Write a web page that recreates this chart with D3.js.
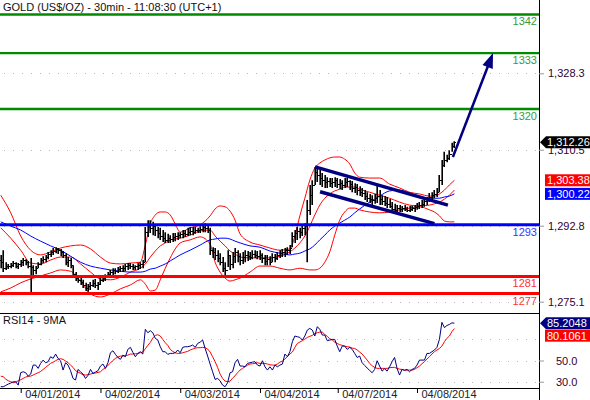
<!DOCTYPE html>
<html><head><meta charset="utf-8">
<script src="https://cdn.jsdelivr.net/npm/d3@7/dist/d3.min.js"></script>
<style>
html,body{margin:0;padding:0;background:#fff;}
svg{display:block;font-family:Arial,"Liberation Sans",sans-serif;}
</style></head><body>
<svg id="chart" width="590" height="400"></svg>
<script>
// ---------------- DATA ----------------
const title = "GOLD (US$/OZ) - 30min - 11:08:30 (UTC+1)";
const rsiTitle = "RSI14 - 9MA";
const dayLabels = ["04/01/2014","04/02/2014","04/03/2014","04/04/2014","04/07/2014","04/08/2014"];
const dayStartIdx = [8, 40, 72, 104, 135.2, 167];
const priceTicks = [1275.1, 1292.8, 1310.5, 1328.3];
const rsiGrid = [30, 50, 70];
const rsiTickLabels = [30, 50];
const levelValues = [1342, 1333, 1320, 1293, 1281, 1277];
const levelKinds  = ["res", "res", "res", "piv", "sup", "sup"];

const firstOpen = 1284.8;
const highs = [
 1286.0,1287.1,1284.3,1283.9,1284.1,1284.6,1284.3,1284.1,1284.8,1285.3,
 1285.0,1284.6,1285.3,1283.6,1283.4,1284.3,1285.3,1285.7,1286.0,1286.7,
 1287.1,1287.6,1287.8,1287.6,1287.4,1286.9,1286.4,1285.5,1285.3,1283.6,
 1282.0,1281.1,1280.6,1280.2,1279.5,1279.2,1279.7,1280.2,1280.4,1279.7,
 1280.8,1281.3,1281.5,1282.0,1282.5,1282.9,1282.9,1283.2,1283.4,1283.6,
 1283.9,1284.1,1284.1,1283.9,1283.6,1284.1,1284.3,1284.8,1292.5,1294.1,
 1294.1,1293.7,1293.0,1292.5,1292.3,1291.8,1291.3,1290.9,1290.6,1291.1,
 1291.1,1291.3,1291.3,1291.8,1291.8,1292.3,1292.5,1292.5,1292.5,1292.3,
 1292.7,1293.0,1293.4,1293.2,1292.3,1287.8,1287.6,1287.1,1286.4,1285.5,
 1284.3,1287.1,1286.0,1286.7,1287.6,1287.1,1286.4,1286.7,1287.1,1286.9,
 1286.7,1287.1,1287.1,1286.9,1287.1,1286.4,1286.0,1286.0,1285.7,1286.4,
 1286.2,1286.7,1287.1,1287.4,1287.6,1287.8,1288.3,1291.3,1291.8,1292.5,
 1292.3,1293.0,1293.4,1298.8,1302.3,1303.4,1306.5,1306.2,1305.8,1305.1,
 1304.6,1304.1,1303.9,1303.9,1304.1,1303.9,1303.7,1303.4,1303.9,1303.9,
 1303.4,1303.2,1302.7,1302.5,1302.0,1301.6,1301.1,1300.6,1300.2,1299.9,
 1300.2,1302.3,1301.1,1299.9,1299.7,1299.5,1299.0,1298.3,1297.9,1297.6,
 1297.6,1297.4,1297.6,1297.2,1297.4,1297.4,1297.6,1298.1,1298.3,1298.8,
 1299.2,1299.5,1300.4,1300.6,1301.1,1301.6,1304.6,1308.1,1310.0,1309.3,
 1310.4,1312.1,1312.5];
const lows = [
 1282.9,1282.0,1282.5,1282.7,1282.9,1283.2,1282.9,1282.7,1283.2,1283.4,
 1283.6,1282.9,1277.1,1281.3,1281.5,1282.9,1283.6,1284.1,1284.3,1285.0,
 1285.5,1286.0,1286.4,1286.2,1285.7,1285.3,1283.6,1283.2,1282.9,1280.8,
 1279.9,1279.5,1279.0,1278.3,1277.6,1277.4,1277.8,1278.5,1278.3,1277.8,
 1279.0,1279.7,1279.9,1280.6,1280.8,1281.3,1281.5,1281.8,1282.0,1282.0,
 1282.2,1282.5,1282.7,1282.5,1282.5,1282.5,1282.7,1282.9,1284.3,1290.2,
 1291.1,1290.6,1290.4,1289.9,1289.5,1289.0,1288.8,1288.8,1288.8,1289.0,
 1289.2,1289.5,1289.9,1289.9,1290.2,1290.4,1290.6,1290.6,1290.9,1291.1,
 1291.1,1291.3,1291.3,1291.1,1286.0,1285.3,1284.8,1284.3,1283.6,1282.0,
 1281.1,1283.2,1282.5,1282.9,1284.1,1284.3,1283.6,1283.9,1284.3,1284.6,
 1284.8,1285.0,1285.3,1285.0,1284.8,1284.1,1283.6,1283.6,1283.6,1284.3,
 1284.3,1284.8,1285.3,1285.5,1285.5,1286.0,1286.2,1287.8,1288.8,1289.5,
 1289.9,1290.4,1290.6,1284.3,1295.3,1297.6,1302.3,1303.0,1302.3,1301.8,
 1301.6,1301.6,1301.8,1301.6,1301.8,1301.6,1301.3,1301.1,1301.6,1301.8,
 1301.1,1300.6,1300.4,1299.9,1299.7,1299.5,1298.8,1298.3,1298.1,1297.6,
 1297.9,1298.1,1297.6,1297.6,1297.4,1296.9,1296.9,1296.0,1295.8,1296.0,
 1296.0,1296.0,1296.2,1296.0,1296.0,1296.2,1296.0,1296.5,1296.7,1296.9,
 1297.2,1297.6,1298.3,1298.8,1299.2,1299.5,1300.6,1302.3,1306.5,1307.6,
 1308.1,1310.0,1310.9];
const closes = [
 1284.3,1282.9,1283.4,1283.4,1283.6,1284.1,1283.4,1283.9,1284.3,1284.8,
 1284.3,1283.4,1283.2,1282.5,1282.9,1283.9,1284.8,1285.0,1285.5,1286.2,
 1286.7,1286.9,1287.4,1287.1,1286.7,1286.0,1284.3,1284.8,1283.6,1281.5,
 1280.6,1280.2,1279.7,1279.0,1278.3,1278.8,1279.0,1279.5,1279.0,1279.2,
 1280.2,1280.6,1281.1,1281.5,1282.0,1282.5,1282.2,1282.7,1282.9,1282.9,
 1283.4,1283.6,1283.4,1283.2,1283.4,1283.6,1283.9,1284.3,1291.3,1293.0,
 1292.3,1292.7,1291.8,1291.1,1290.4,1289.9,1289.5,1289.9,1289.7,1290.2,
 1290.4,1290.6,1290.9,1291.1,1290.9,1291.3,1291.6,1291.3,1291.8,1291.8,
 1292.0,1292.5,1292.3,1291.8,1287.1,1286.7,1286.0,1285.3,1284.3,1282.9,
 1282.5,1286.0,1283.9,1285.7,1286.7,1285.7,1284.8,1285.5,1286.0,1285.7,
 1285.5,1286.2,1286.0,1285.7,1286.0,1285.3,1284.6,1285.0,1284.3,1285.5,
 1285.3,1286.0,1286.4,1286.7,1287.1,1287.1,1287.6,1290.4,1291.1,1291.6,
 1291.3,1292.3,1292.7,1296.5,1299.9,1302.3,1305.3,1304.6,1303.9,1303.4,
 1303.0,1303.2,1302.7,1303.0,1303.4,1302.5,1302.7,1302.3,1303.0,1303.2,
 1302.5,1301.6,1301.8,1301.1,1300.6,1300.4,1299.7,1299.2,1299.0,1298.8,
 1299.2,1299.7,1299.0,1298.5,1298.1,1297.9,1297.4,1296.7,1296.5,1296.9,
 1296.7,1296.9,1296.7,1296.5,1296.7,1296.9,1297.2,1297.4,1297.6,1297.9,
 1298.5,1298.8,1299.5,1299.9,1300.2,1300.6,1303.4,1306.9,1308.1,1308.6,
 1309.5,1311.4,1312.26];

// Indicator curves at these bar positions
const bandIdx = [0,4,8,12,16,20,24,28,32,36,40,44,48,52,56,58,60,62,64,66,68,70,72,76,80,84,86,88,90,92,
 94,96,100,104,108,112,116,118,120,122,124,126,128,130,132,134,136,138,140,142,144,148,152,156,160,164,168,172,174,176,178,180,182];
const bbUpper = [
 1299.9,1295.8,1290.4,1287.1,1286.0,1286.7,1287.6,1288.1,1288.3,1287.4,
 1285.5,1284.1,1283.9,1284.1,1284.3,1288.3,1293.2,1295.3,1296.0,1296.0,
 1295.3,1293.2,1291.3,1292.3,1293.0,1295.1,1296.7,1297.4,1297.2,1296.2,
 1294.1,1290.9,1289.0,1288.3,1287.6,1287.1,1287.4,1290.4,1295.1,1299.2,
 1303.4,1306.2,1307.4,1308.1,1308.6,1308.8,1308.8,1308.3,1307.2,1305.1,
 1304.1,1303.9,1303.9,1302.5,1301.6,1300.6,1300.2,1299.7,1299.7,1300.2,
 1301.1,1302.3,1303.38];
const bbMiddle = [
 1292.3,1289.9,1287.1,1284.1,1283.9,1284.8,1285.5,1285.5,1283.9,1282.0,
 1280.4,1280.2,1280.8,1282.0,1282.9,1283.9,1285.5,1286.9,1288.1,1288.8,
 1289.5,1289.7,1289.9,1290.6,1291.6,1291.8,1290.4,1289.2,1288.1,1286.9,
 1286.2,1285.5,1285.3,1285.3,1285.3,1285.7,1286.7,1287.6,1288.8,1290.4,
 1292.7,1295.3,1297.6,1299.2,1300.2,1300.9,1301.3,1301.8,1301.8,1301.8,
 1301.3,1300.6,1299.9,1299.2,1298.3,1297.6,1297.4,1297.6,1297.9,1298.3,
 1299.0,1299.9,1301.1];
const bbLower = [
 1277.4,1278.3,1279.5,1280.4,1281.1,1281.8,1282.5,1282.2,1279.9,1276.9,
 1276.2,1276.9,1278.1,1279.0,1280.2,1279.2,1277.6,1277.8,1280.2,1282.9,
 1285.3,1287.4,1288.8,1289.5,1290.2,1288.5,1284.3,1282.0,1280.6,1279.9,
 1280.2,1280.6,1282.0,1283.4,1283.4,1282.9,1282.5,1282.7,1282.9,1282.7,
 1282.5,1282.5,1282.9,1284.3,1286.7,1290.6,1294.1,1296.0,1296.9,1296.9,
 1296.5,1296.0,1295.8,1296.0,1296.5,1296.9,1297.2,1296.5,1296.0,1295.1,
 1293.9,1293.7,1293.7];
const maLong = [
 1293.7,1292.7,1291.8,1290.4,1289.2,1288.1,1287.1,1285.7,1284.3,1283.4,
 1282.9,1282.5,1282.2,1282.0,1282.0,1282.2,1282.7,1282.9,1283.4,1283.9,
 1284.6,1285.3,1286.0,1287.1,1288.3,1289.5,1289.7,1289.9,1289.9,1289.7,
 1289.2,1288.8,1288.1,1287.8,1286.9,1286.4,1286.0,1286.2,1286.4,1286.9,
 1287.4,1288.3,1289.5,1290.6,1291.8,1292.7,1293.4,1294.1,1294.8,1295.8,
 1296.7,1298.3,1299.7,1300.9,1301.1,1300.4,1299.7,1299.2,1299.2,1299.2,
 1299.5,1299.7,1300.22];

const rsi = [
 25.3,25.3,26.5,27.8,28.7,30.0,30.0,26.8,38.5,39.4,
 38.5,35.3,37.2,45.7,45.7,42.6,47.3,50.4,47.9,48.9,
 53.6,52.0,56.1,52.0,49.8,41.0,47.9,45.7,40.4,33.1,
 31.6,41.6,39.4,37.2,33.1,36.0,41.6,37.8,39.1,40.4,
 44.8,46.7,42.6,47.9,57.3,59.2,55.8,52.9,51.1,55.1,
 53.6,60.5,62.4,57.7,53.6,56.7,58.3,56.1,79.4,76.2,
 78.1,76.2,70.9,69.3,63.0,58.3,58.3,55.8,56.7,56.7,
 57.3,59.9,57.3,62.4,63.0,63.0,63.6,64.6,62.4,66.1,
 67.4,69.3,61.4,54.2,46.7,39.4,32.2,33.1,30.9,26.8,
 25.3,29.0,38.5,39.4,47.9,51.1,44.8,44.8,44.1,47.3,
 47.9,48.5,48.9,45.7,44.8,49.8,44.1,41.0,44.1,41.0,
 45.7,44.1,45.7,46.7,56.1,53.6,58.3,67.7,73.1,72.4,
 71.8,69.3,73.1,78.7,80.3,78.7,73.1,81.9,79.4,74.0,
 74.0,68.7,69.3,69.9,69.9,63.6,58.3,63.6,63.6,60.5,
 62.4,60.5,56.7,52.9,54.2,47.9,45.4,42.9,40.7,38.5,
 41.6,49.8,44.8,40.0,42.2,40.0,44.1,48.9,52.9,42.6,
 36.3,41.6,40.7,41.6,39.4,41.6,42.6,45.7,50.4,50.4,
 50.4,56.7,56.7,58.3,59.9,62.4,70.0,86.0,81.0,83.0,
 84.0,85.5,85.2048];
const rsiMA = [
 35.3,34.7,32.5,30.9,30.0,29.0,29.7,30.9,31.9,33.1,
 34.4,35.0,35.3,36.3,37.5,38.5,39.7,41.6,43.5,45.4,
 47.3,48.5,49.8,51.1,51.7,51.1,49.5,47.9,45.7,43.5,
 40.4,39.1,37.9,36.6,36.3,36.6,37.2,37.9,38.2,38.8,
 39.4,41.6,43.2,45.4,47.6,50.1,52.0,53.3,54.2,54.2,
 54.5,55.1,56.1,56.1,56.4,56.7,57.3,58.0,61.1,64.3,
 67.1,71.2,73.7,74.3,73.1,69.9,66.8,64.3,60.5,58.6,
 57.3,56.7,56.7,57.3,58.0,58.6,59.9,60.8,61.7,62.1,
 62.1,62.4,62.1,60.8,58.0,53.6,48.9,43.5,37.2,33.1,
 30.6,30.0,30.6,33.4,35.6,38.5,41.0,42.6,44.1,45.7,
 46.7,47.0,47.3,47.9,47.3,47.3,47.3,46.7,46.0,45.7,
 45.7,46.7,48.5,49.5,51.4,53.6,56.1,58.0,62.4,66.1,
 67.4,68.7,70.2,71.8,72.8,73.7,75.3,76.2,76.8,76.8,
 74.6,72.8,70.6,69.3,67.4,66.1,64.9,64.3,63.6,63.0,
 62.7,61.7,61.4,59.9,58.0,56.1,53.3,50.4,47.3,45.1,
 43.5,42.6,42.6,42.6,42.6,42.6,43.2,43.5,43.5,42.6,
 41.9,41.6,41.0,41.0,41.0,41.0,41.6,43.2,44.8,47.0,
 48.9,51.4,53.6,56.1,58.3,59.9,61.4,63.6,67.7,70.9,
 73.1,77.2,80.1061];

// drawn annotations (bar index, price)
const chanUpIdx = [126.1, 179.4], chanUpVal = [1306.5, 1297.6];
const chanLoIdx = [128.1, 174.0], chanLoVal = [1300.7, 1293.3];
const arrowIdx  = [181.4, 197.5], arrowVal  = [1308.8, 1333.0];

// ---------------- LAYOUT / STYLE ----------------
const plotRight = 539, mainTop = 0, mainBottom = 313, rsiTop = 313, rsiBottom = 388;
const levelStyle = {
  res: {line: "#008a00", text: "#3a9a3a", width: 2.4},
  piv: {line: "#0000ff", text: "#3333ff", width: 3},
  sup: {line: "#ff0000", text: "#ff3333", width: 3}
};
const svg = d3.select("#chart");
const x = d3.scaleLinear().domain([-0.305, 215.95]).range([0, plotRight]);
const y = d3.scaleLinear().domain([1272.47, 1345.37]).range([mainBottom, mainTop]);
const yr = d3.scaleLinear().domain([24.1, 94.8]).range([rsiBottom, rsiTop]);

const defs = svg.append("defs");
defs.append("clipPath").attr("id","clipMain").append("rect")
  .attr("x",0).attr("y",mainTop).attr("width",plotRight).attr("height",mainBottom-mainTop);
defs.append("clipPath").attr("id","clipRsi").append("rect")
  .attr("x",0).attr("y",rsiTop).attr("width",plotRight).attr("height",rsiBottom-rsiTop);

// grid
const grid = svg.append("g").attr("stroke","#b8b8b8").attr("stroke-dasharray","1,8");
grid.selectAll("line.pg").data(priceTicks).join("line")
  .attr("x1",4).attr("x2",plotRight).attr("y1",d=>Math.round(y(d))+0.5).attr("y2",d=>Math.round(y(d))+0.5);
grid.selectAll("line.rg").data(rsiGrid).join("line")
  .attr("x1",4).attr("x2",plotRight).attr("y1",d=>Math.round(yr(d))+0.5).attr("y2",d=>Math.round(yr(d))+0.5);

const main = svg.append("g").attr("clip-path","url(#clipMain)");

// Bollinger bands + long MA
const bandPts = arr => bandIdx.map((b,k)=>({i:b, v:arr[k]}));
const curve = d3.line().x(d=>x(d.i)).y(d=>y(d.v)).curve(d3.curveMonotoneX);
[bbUpper, bbMiddle, bbLower].forEach(arr=>{
  main.append("path").attr("d", curve(bandPts(arr))).attr("fill","none")
    .attr("stroke","#ff0000").attr("stroke-width",1);
});
main.append("path").attr("d", curve(bandPts(maLong))).attr("fill","none")
  .attr("stroke","#0000ff").attr("stroke-width",1);

// OHLC bars
const bars = closes.map((c,i)=>({i, o: i ? closes[i-1] : firstOpen, h: highs[i], l: lows[i], c}));
const barG = main.append("g").attr("stroke","#000");
barG.selectAll("path.v").data(bars).join("path").attr("stroke-width",1.6)
  .attr("d", d=>{
    const cx = Math.round(x(d.i)) + 0.2;
    const yh = y(d.h), yl = Math.max(y(d.l), yh + 1.5);
    return `M${cx},${yh}V${yl}`;
  });
barG.selectAll("path.t").data(bars).join("path").attr("stroke-width",1).attr("shape-rendering","crispEdges")
  .attr("d", d=>{
    const cx = Math.round(x(d.i));
    return `M${cx-2},${Math.round(y(d.o))+0.5}H${cx}M${cx},${Math.round(y(d.c))+0.5}H${cx+2}`;
  });

// horizontal levels
main.selectAll("line.lvl").data(levelValues).join("line")
  .attr("x1",0).attr("x2",plotRight)
  .attr("y1",d=>y(d)).attr("y2",d=>y(d))
  .attr("stroke",(d,k)=>levelStyle[levelKinds[k]].line)
  .attr("stroke-width",(d,k)=>levelStyle[levelKinds[k]].width);

// channel lines
const straight = d3.line().x(d=>x(d[0])).y(d=>y(d[1]));
[[chanUpIdx, chanUpVal],[chanLoIdx, chanLoVal]].forEach(([ii,vv])=>{
  main.append("path").attr("d", straight(ii.map((v,k)=>[v, vv[k]])))
    .attr("stroke","#000080").attr("stroke-width",3.5).attr("fill","none");
});

// arrow
{
  const x0 = x(arrowIdx[0]), y0 = y(arrowVal[0]), x1 = x(arrowIdx[1]), y1 = y(arrowVal[1]);
  const len = Math.hypot(x1-x0, y1-y0), ux = (x1-x0)/len, uy = (y1-y0)/len;
  const hl = 15, hw = 5.5;
  main.append("line").attr("x1",x0).attr("y1",y0).attr("x2",x1-ux*hl*0.8).attr("y2",y1-uy*hl*0.8)
    .attr("stroke","#000080").attr("stroke-width",2.5);
  const bx = x1-ux*hl, by = y1-uy*hl;
  main.append("path").attr("fill","#000080")
    .attr("d",`M${x1},${y1}L${bx-uy*hw},${by+ux*hw}L${bx+uy*hw},${by-ux*hw}Z`);
}

// level labels
svg.selectAll("text.lvl").data(levelValues).join("text")
  .attr("x",plotRight-2).attr("y",d=>y(d)+11).attr("text-anchor","end")
  .attr("font-size",11).attr("fill",(d,k)=>levelStyle[levelKinds[k]].text).text(d=>d);

// RSI
const rsiG = svg.append("g").attr("clip-path","url(#clipRsi)");
const rline = d3.line().x((d,i)=>x(i)).y(d=>yr(d));
rsiG.append("path").attr("d", rline(rsiMA)).attr("fill","none").attr("stroke","#ff0000").attr("stroke-width",1);
rsiG.append("path").attr("d", rline(rsi)).attr("fill","none").attr("stroke","#000080").attr("stroke-width",1);

// frames
const frame = svg.append("g").attr("stroke","#000").attr("shape-rendering","crispEdges");
frame.append("line").attr("x1",0).attr("x2",plotRight).attr("y1",rsiTop+0.5).attr("y2",rsiTop+0.5);
frame.append("line").attr("x1",0).attr("x2",plotRight).attr("y1",rsiBottom+0.5).attr("y2",rsiBottom+0.5);
frame.append("line").attr("x1",plotRight+0.5).attr("x2",plotRight+0.5).attr("y1",0).attr("y2",400).attr("stroke-width",1.5);

// axes
const axP = svg.append("g").attr("transform",`translate(${plotRight},0)`)
  .call(d3.axisRight(y).tickValues(priceTicks).tickSize(5).tickPadding(4).tickFormat(d3.format(",.1f")));
const axR = svg.append("g").attr("transform",`translate(${plotRight},0)`)
  .call(d3.axisRight(yr).tickValues(rsiTickLabels).tickSize(5).tickPadding(12).tickFormat(d3.format(".1f")));
const axX = svg.append("g").attr("transform",`translate(0,${rsiBottom})`)
  .call(d3.axisBottom(x).tickValues(dayStartIdx).tickSize(5).tickFormat((d,i)=>dayLabels[i]));
[axP, axR, axX].forEach(a=>{
  a.select(".domain").remove();
  a.selectAll("line").attr("stroke","#999");
  a.selectAll("text").attr("font-size",11).attr("font-family","Arial, 'Liberation Sans', sans-serif").attr("fill","#330033");
});
axX.selectAll("line").attr("stroke","#000");
axX.selectAll("text").attr("text-anchor","start").attr("x",4).attr("y",9.7).attr("dy",0).attr("fill","#222");

// titles
svg.append("text").attr("x",3).attr("y",11).attr("font-size",11).attr("fill","#111").text(title);
svg.append("text").attr("x",3).attr("y",324).attr("font-size",11).attr("fill","#111").text(rsiTitle);

// value tags
function tag(cy, color, label, pointed){
  const g = svg.append("g");
  const h = 6;
  if (pointed) g.append("path").attr("fill",color)
    .attr("d",`M${plotRight+1},${cy}L${plotRight+7},${cy-h}H590V${cy+h}H${plotRight+7}Z`);
  else g.append("rect").attr("x",plotRight+6).attr("y",cy-h).attr("width",590-plotRight-6).attr("height",2*h).attr("fill",color);
  g.append("text").attr("x",plotRight+8).attr("y",cy+4).attr("font-size",11).attr("fill","#fff").text(label);
  return cy;
}
const lastI = closes.length-1;
const tPrice = tag(y(closes[lastI]), "#000", d3.format(",.2f")(closes[lastI]), true);
const tUp = tag(Math.max(y(bbUpper[bbUpper.length-1]), tPrice+12.5), "#ff0000", d3.format(",.2f")(bbUpper[bbUpper.length-1]), false);
tag(Math.max(y(maLong[maLong.length-1]), tUp+12.5), "#0000ff", d3.format(",.2f")(maLong[maLong.length-1]), false);
const tR = tag(yr(rsi[lastI]), "#000080", d3.format(".4f")(rsi[lastI]), true);
tag(Math.max(yr(rsiMA[lastI]), tR+12.5), "#ff0000", d3.format(".4f")(rsiMA[lastI]), false);
</script>
</body></html>
